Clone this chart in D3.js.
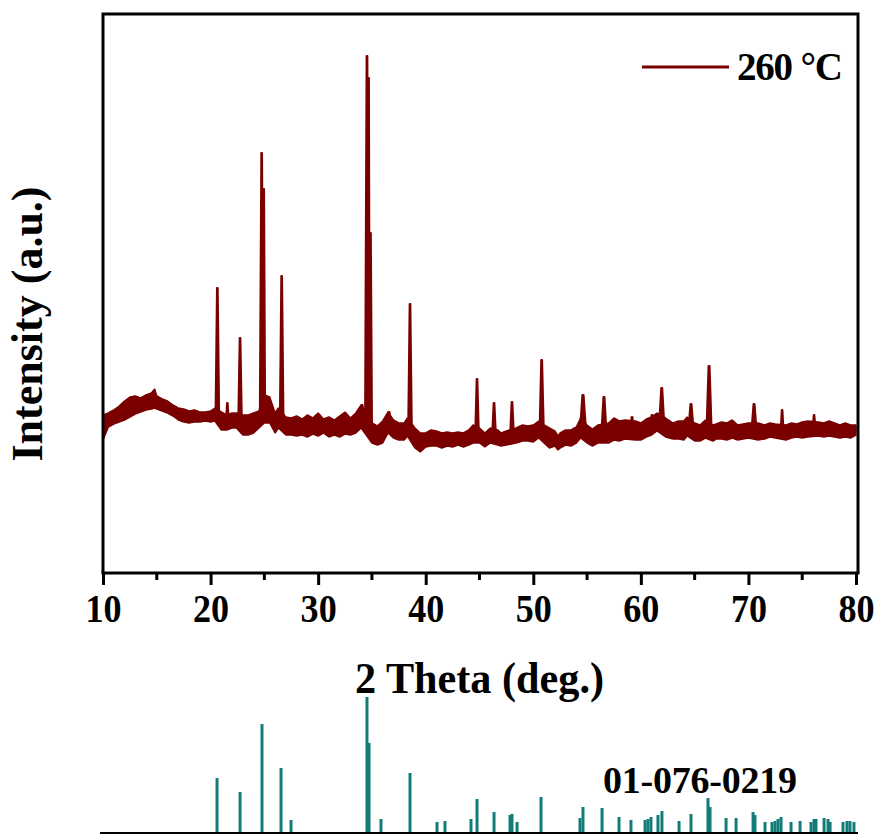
<!DOCTYPE html>
<html>
<head>
<meta charset="utf-8">
<script src="https://cdn.jsdelivr.net/npm/d3@7"></script>
<style>
  body { margin: 0; background: #fff; }
  svg text { font-family: "Liberation Serif", "Times New Roman", serif; font-weight: bold; }
</style>
</head>
<body>
<svg id="chart" width="880" height="835"></svg>
<script>
// background band of the measured pattern (2theta, upper and lower edge of the noise)
const bgDeg = [10.0, 10.5, 11.0, 11.5, 12.0, 12.5, 13.0, 13.5, 14.0, 14.5, 14.8, 15.0, 15.5, 16.0, 16.5, 17.0, 17.5, 18.0, 18.5, 19.0, 19.5, 20.0, 20.4,
  21.0, 21.5, 22.0, 22.4, 23.0, 23.5, 24.0, 24.5, 25.0, 25.5, 26.0, 26.3, 27.0, 27.5, 28.0, 28.5, 29.0, 29.5, 30.0, 30.5, 31.0, 31.5, 32.0, 32.5, 33.0, 33.5, 34.0,
  35.0, 35.5, 36.0, 36.5, 37.0, 37.5, 38.0, 38.3, 39.0, 39.5, 40.0, 40.5, 41.0, 41.5, 42.0, 42.5, 43.0, 43.5, 44.0, 44.4, 45.0, 45.5, 46.0, 46.7, 47.0, 47.5,
  48.4, 49.0, 49.5, 50.0, 50.5, 51.0, 51.5, 52.0, 52.3, 52.5, 53.0, 53.5, 54.0, 54.4, 55.0, 55.5, 56.0, 57.0, 57.5, 58.0, 58.5, 59.5, 60.0, 60.5, 61.0, 61.5,
  62.3, 63.0, 63.5, 64.0, 64.3, 65.0, 65.5, 66.0, 66.7, 67.0, 67.5, 68.0, 68.5, 69.0, 69.5, 70.0, 70.9, 71.5, 72.0, 72.5, 73.5, 74.0, 74.5, 75.0, 75.5,
  76.5, 77.0, 77.5, 78.0, 78.5, 79.0, 79.5, 80.0];
const bgHi = [158, 160, 163, 167, 172, 176, 177, 175, 178, 180, 184, 177, 174, 172, 168, 165, 164, 162, 163, 161, 161, 162, 165,
  161, 158, 160, 160, 158, 158, 160, 162, 178, 176, 160, 165, 156, 155, 157, 154, 158, 155, 160, 154, 156, 153, 157, 161, 155, 160, 168,
  150, 147, 152, 161, 153, 150, 150, 155, 145, 140, 140, 143, 142, 140, 141, 140, 141, 140, 143, 148, 145, 140, 145, 143, 140, 142,
  145, 148, 147, 148, 152, 148, 145, 142, 137, 140, 143, 143, 146, 155, 148, 144, 148, 150, 155, 152, 153, 152, 150, 154, 156, 160,
  155, 150, 152, 152, 156, 150, 148, 153, 148, 149, 151, 150, 153, 148, 149, 150, 150, 148, 150, 149, 148, 150, 149, 151, 152,
  151, 150, 152, 150, 148, 150, 148, 148];
const bgLo = [133, 146, 149, 151, 153, 156, 159, 161, 163, 164, 165, 164, 162, 160, 157, 153, 151, 150, 151, 151, 152, 151, 152,
  143, 143, 145, 145, 138, 138, 140, 145, 150, 150, 140, 145, 138, 138, 137, 138, 136, 139, 137, 140, 136, 138, 136, 139, 138, 140, 145,
  130, 128, 130, 140, 135, 133, 133, 137, 125, 121, 126, 127, 127, 125, 127, 126, 128, 126, 128, 130, 130, 126, 130, 128, 127, 128,
  130, 132, 132, 131, 135, 130, 125, 127, 123, 125, 128, 127, 130, 135, 130, 127, 130, 130, 133, 132, 134, 133, 133, 136, 138, 142,
  136, 134, 134, 133, 137, 132, 132, 135, 132, 134, 134, 133, 135, 133, 134, 135, 133, 134, 136, 135, 133, 135, 136, 135, 136,
  137, 136, 137, 136, 135, 136, 135, 138];

// diffraction peaks of the measured pattern (2theta, apex intensity, half base width in degrees)
const peakDeg = [20.63, 21.56, 22.74, 24.75, 24.95, 26.61, 34.08, 34.54, 34.7, 34.87, 36.59, 38.54, 44.77, 46.35, 48.02, 50.78,
  54.62, 56.57, 59.18, 61.04, 61.94, 64.66, 66.34, 70.52, 73.13, 76.10];
const peakTop = [285, 170, 235, 420, 384, 297, 168, 517, 495, 340, 161, 269, 194, 170, 171, 213,
  178, 176, 156, 158, 185, 169, 207, 169, 163, 158];
const peakHalf = [0.17, 0.14, 0.17, 0.17, 0.12, 0.17, 0.2, 0.18, 0.1, 0.14, 0.2, 0.17, 0.17, 0.18, 0.18, 0.2,
  0.28, 0.24, 0.18, 0.18, 0.24, 0.24, 0.24, 0.24, 0.14, 0.14];

// reference card 01-076-0219 (2theta, relative intensity)
const refDeg = [20.60, 22.74, 24.78, 26.55, 27.48, 34.54, 34.73, 35.84, 38.54, 41.05, 41.79, 44.21, 44.77, 46.35, 47.84, 48.02,
  48.49, 50.72, 54.34, 54.62, 56.39, 57.97, 59.08, 60.39, 60.66, 60.94, 61.59, 61.96, 63.55, 64.66, 66.24, 66.43, 67.92, 68.85,
  70.43, 70.61, 71.54, 72.19, 72.47, 72.75, 73.03, 73.96, 74.80, 75.82, 76.10, 76.28, 77.03, 77.40, 77.59, 78.79, 79.16, 79.44, 79.81];
const refInt = [40.4, 30.1, 80.1, 47.8, 9.6, 100, 66.2, 10.3, 44.1, 8.1, 8.8, 10.3, 25.0, 15.4, 13.2, 14.0,
  8.1, 26.5, 11.0, 19.1, 18.4, 11.8, 9.6, 9.6, 10.3, 11.8, 13.2, 16.2, 8.8, 14.0, 25.7, 19.1, 11.0, 11.0,
  15.4, 13.2, 8.1, 8.1, 8.8, 10.3, 11.8, 8.1, 8.8, 8.1, 10.3, 10.3, 11.0, 10.3, 8.1, 8.1, 8.8, 8.8, 8.1];

const xTicks = [10, 20, 30, 40, 50, 60, 70, 80];
const xMinor = [15, 25, 35, 45, 55, 65, 75];
const seriesName = "260 \u00B0C";
const cardName = "01-076-0219";

const traceColor = "#7a0000";
const stickColor = "#137c78";

const svg = d3.select("#chart");

const x = d3.scaleLinear().domain([10, 80]).range([103, 856]);
const y = d3.scaleLinear().domain([0, 559]).range([573, 14]);
const yRef = d3.scaleLinear().domain([0, 100]).range([833, 697]);

// noise band
const bg = bgDeg.map((d, i) => ({ d: d, hi: bgHi[i], lo: bgLo[i] }));
const band = d3.area()
  .x(d => x(d.d))
  .y0(d => y(d.lo))
  .y1(d => y(d.hi));
svg.append("path")
  .datum(bg)
  .attr("d", band)
  .attr("fill", traceColor)
  .attr("stroke", traceColor)
  .attr("stroke-width", 1.5)
  .attr("stroke-linejoin", "bevel");

// band centre at a given angle, so each peak stands on the background
function baseAt(deg) {
  const i = d3.bisectLeft(bgDeg, deg);
  const a = bg[Math.max(0, i - 1)], b = bg[Math.min(bg.length - 1, i)];
  const t = b.d === a.d ? 0 : (deg - a.d) / (b.d - a.d);
  return ((a.hi + a.lo) / 2) * (1 - t) + ((b.hi + b.lo) / 2) * t;
}

const peakLine = d3.line().x(p => x(p[0])).y(p => y(p[1]));
peakDeg.forEach((pos, i) => {
  const w = peakHalf[i];
  const base = baseAt(pos);
  const pts = [[pos - w, base], [pos - w * 0.2, peakTop[i]], [pos + w * 0.2, peakTop[i]], [pos + w, base]];
  svg.append("path")
    .attr("d", peakLine(pts))
    .attr("fill", traceColor)
    .attr("stroke", traceColor)
    .attr("stroke-width", 2)
    .attr("stroke-linejoin", "round");
});

// frame
svg.append("path")
  .attr("d", "M103,573 V14 H858 V573")
  .attr("fill", "none")
  .attr("stroke", "#000")
  .attr("stroke-width", 3);

// x axis
const xAxis = svg.append("g")
  .attr("transform", "translate(0,573)")
  .call(d3.axisBottom(x).tickValues(xTicks).tickSize(12).tickPadding(8).tickFormat(d3.format("d")));
xAxis.select(".domain").attr("stroke-width", 3).attr("d", "M101.5,0H859.5");
xAxis.selectAll(".tick line").attr("stroke-width", 3);
xAxis.selectAll(".tick text")
  .attr("font-size", 41)
  .attr("transform", "scale(0.88,1)")
  .attr("font-family", "Liberation Serif")
  .attr("font-weight", "bold")
  .attr("fill", "#000");

svg.append("g").selectAll("line")
  .data(xMinor)
  .enter().append("line")
  .attr("x1", d => x(d)).attr("x2", d => x(d))
  .attr("y1", 573).attr("y2", 580)
  .attr("stroke", "#000")
  .attr("stroke-width", 3);

// axis titles
svg.append("text")
  .attr("transform", "translate(" + x(45) + ",693) scale(0.96,1)")
  .attr("text-anchor", "middle")
  .attr("font-size", 44)
  .text("2 Theta (deg.)");

svg.append("text")
  .attr("transform", "translate(42,324) rotate(-90)")
  .attr("text-anchor", "middle")
  .attr("font-size", 44)
  .text("Intensity (a.u.)");

// legend
svg.append("line")
  .attr("x1", 642).attr("x2", 729)
  .attr("y1", 67).attr("y2", 67)
  .attr("stroke", traceColor)
  .attr("stroke-width", 3);
svg.append("text")
  .attr("x", 737)
  .attr("y", 80)
  .attr("font-size", 39)
  .attr("textLength", 106)
  .text(seriesName);

// reference sticks
svg.append("g").selectAll("line")
  .data(refDeg)
  .enter().append("line")
  .attr("x1", d => x(d)).attr("x2", d => x(d))
  .attr("y1", yRef(0))
  .attr("y2", (d, i) => yRef(refInt[i]))
  .attr("stroke", stickColor)
  .attr("stroke-width", 3);

svg.append("line")
  .attr("x1", 100).attr("x2", 858)
  .attr("y1", yRef(0)).attr("y2", yRef(0))
  .attr("stroke", "#000")
  .attr("stroke-width", 2);

svg.append("text")
  .attr("x", 603)
  .attr("y", 793)
  .attr("font-size", 38)
  .attr("textLength", 194)
  .text(cardName);
</script>
</body>
</html>
